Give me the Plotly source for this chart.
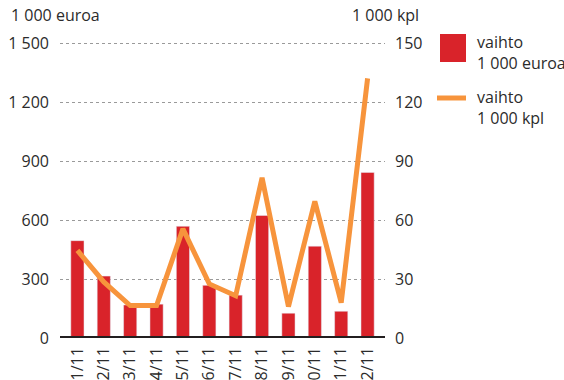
import plotly.graph_objects as go

# Monthly sales: value (1 000 euroa, left axis) and volume (1 000 kpl, right axis)
months = ["1/11", "2/11", "3/11", "4/11", "5/11", "6/11",
          "7/11", "8/11", "9/11", "10/11", "11/11", "12/11"]
sales_eur = [495, 315, 168, 172, 568, 268, 218, 623, 126, 467, 136, 842]
sales_pcs = [44.5, 28.5, 16.5, 16.5, 55.5, 27.5, 21.5, 81.5, 16.0, 69.5, 18.0, 132.0]

left_ticks = [0, 300, 600, 900, 1200, 1500]
right_ticks = [0, 30, 60, 90, 120, 150]

RED = "#D9232A"
ORANGE = "#F7943C"
TEXT = "#2b2b2b"
FONT = "Open Sans"

# plot area in pixels (a few px of headroom above the 1 500 line)
L, R, T, B = 60, 385, 36, 338
TOP_LINE = 43
W, H = R - L, B - T

fig = go.Figure()
fig.add_trace(go.Bar(x=months, y=sales_eur, marker_color=RED, width=0.5,
                     name="vaihto 1 000 euroa", yaxis="y"))
fig.add_trace(go.Scatter(x=months, y=sales_pcs, mode="lines",
                         line=dict(color=ORANGE, width=5),
                         name="vaihto 1 000 kpl", yaxis="y2"))

top_eur = 1500 * H / (B - TOP_LINE)
fig.update_layout(
    width=564, height=380,
    margin=dict(l=L, r=564 - R, t=T, b=380 - B),
    paper_bgcolor="white", plot_bgcolor="white",
    font=dict(family=FONT, size=16, color=TEXT),
    separators=", ",
    showlegend=False,
    xaxis=dict(type="category", range=[-0.66, 11.66], tickangle=-90,
               showgrid=False, zeroline=False, showline=False,
               automargin=False, ticklabelstandoff=5,
               tickfont=dict(size=16, color=TEXT)),
    yaxis=dict(range=[0, top_eur], tickvals=left_ticks, tickformat=",d",
               showgrid=True, gridcolor="#9a9a9a", griddash="dot", gridwidth=1,
               zeroline=False, showline=False, automargin=False,
               ticklabelstandoff=10),
    yaxis2=dict(range=[0, top_eur / 10], tickvals=right_ticks, overlaying="y",
                side="right", showgrid=False, zeroline=False, showline=False,
                automargin=False, ticklabelstandoff=9),
)

# Heavy baseline along zero
fig.add_shape(type="line", xref="paper", yref="y", x0=0, x1=1, y0=0, y1=0,
              line=dict(color="#231F20", width=4))

px_x = lambda p: (p - L) / W
px_y = lambda p: (B - p) / H

# Axis unit captions
fig.add_annotation(text="1 000 euroa", xref="paper", yref="paper",
                   x=px_x(9), y=px_y(15), xanchor="left",
                   yanchor="middle", showarrow=False)
fig.add_annotation(text="1 000 kpl", xref="paper", yref="paper",
                   x=px_x(421), y=px_y(15), xanchor="right",
                   yanchor="middle", showarrow=False)

# Hand-placed legend to the right of the plot
fig.add_shape(type="rect", xref="paper", yref="paper",
              x0=px_x(440), x1=px_x(466), y0=px_y(62), y1=px_y(34),
              fillcolor=RED, line=dict(width=0))
fig.add_annotation(text="vaihto<br>1 000 euroa", xref="paper", yref="paper",
                   x=px_x(475), y=px_y(52), xanchor="left", yanchor="middle",
                   align="left", showarrow=False)
fig.add_shape(type="line", xref="paper", yref="paper",
              x0=px_x(437), x1=px_x(466), y0=px_y(98), y1=px_y(98),
              line=dict(color=ORANGE, width=5))
fig.add_annotation(text="vaihto<br>1 000 kpl", xref="paper", yref="paper",
                   x=px_x(475), y=px_y(107), xanchor="left", yanchor="middle",
                   align="left", showarrow=False)

fig.write_html("out.html")
